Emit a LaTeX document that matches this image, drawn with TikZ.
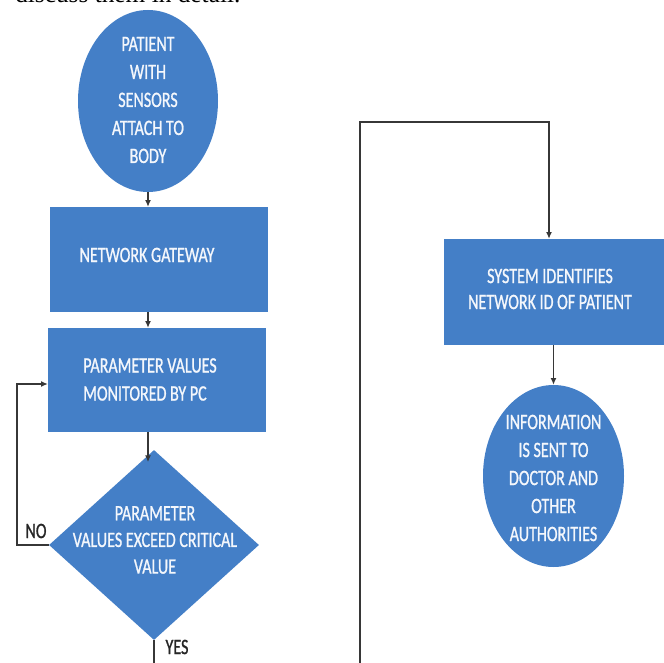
\documentclass[tikz,border=0pt]{standalone}
\usepackage{fontspec}
\setmainfont{Carlito}[FakeStretch=0.73, FakeBold=0.9]
\newfontfamily\serifdoc{Liberation Serif}
\usetikzlibrary{shapes.geometric,arrows.meta,calc}
\definecolor{boxblue}{RGB}{68,127,199}
\definecolor{linegray}{RGB}{55,55,55}
\tikzset{
  shapefill/.style={fill=boxblue, draw=none, inner sep=0pt},
  ellnode/.style={shapefill, ellipse, minimum width=105pt, minimum height=136.5pt},
  boxnode/.style={shapefill, rectangle},
  decnode/.style={shapefill, diamond, minimum width=157.5pt, minimum height=142.5pt},
  txt/.style={text=white!94!boxblue, font=\fontsize{16.5pt}{21pt}\selectfont, align=center, inner sep=0pt},
  lbl/.style={text=black!85, font=\fontsize{16.5pt}{21pt}\selectfont, inner sep=0pt},
  conn/.style={draw=linegray, line width=0.9pt},
  arr/.style={conn, -{Latex[length=5pt,width=4.5pt]}}
}
\begin{document}
\begin{tikzpicture}[x=0.75pt, y=-0.75pt]
\useasboundingbox (0,0) rectangle (664,663);
\clip (0,0) rectangle (664,663);
\fill[white] (0,0) rectangle (664,663);

% cut-off text line at the top
\node[anchor=base west, inner sep=0pt, font=\serifdoc\fontsize{19pt}{21pt}\selectfont] (topline) at (15,3) {discuss them in detail.};

% shapes
\node[ellnode] (p) at (148,101) {};
\node[txt] (pt) at (148,100) {PATIENT\\WITH\\SENSORS\\ATTACH TO\\BODY};

\node[boxnode, minimum width=163.5pt, minimum height=78.75pt] (r1) at (159,259.5) {};
\node[txt] (r1t) at (147,255) {NETWORK GATEWAY};

\node[boxnode, minimum width=163.5pt, minimum height=78pt] (r2) at (157,380) {};
\node[txt, align=left, anchor=west] (r2t) at (83,379.5) {PARAMETER VALUES\\MONITORED BY PC};

\node[decnode] (d) at (154,545) {};
\node[txt, font=\fontsize{16.5pt}{20pt}\selectfont] (dt) at (155,540) {PARAMETER\\VALUES EXCEED CRITICAL\\VALUE};

\node[boxnode, minimum width=165pt, minimum height=79.5pt] (r3) at (554,292) {};
\node[txt, font=\fontsize{16.5pt}{19.5pt}\selectfont] (r3t) at (550,289) {SYSTEM IDENTIFIES\\NETWORK ID OF PATIENT};

\node[ellnode, minimum width=105.75pt] (e2) at (553.5,476) {};
\node[txt] (e2t) at (553.5,478) {INFORMATION\\IS SENT TO\\DOCTOR AND\\OTHER\\AUTHORITIES};

% labels
\node[lbl] (no) at (36,531) {NO};
\node[lbl] (yes) at (177,647) {YES};

% coordinates for free ends / corners
\coordinate (dtip) at (148,462);
\coordinate (nocorner) at (17,545);
\coordinate (ybot) at (154,663);
\coordinate (rb) at (360,663);
\coordinate (rt) at (360,122);
\coordinate (rtr) at (549,122);

% connectors
\draw[arr] (p.south) -- (p.south |- r1.north);
\draw[arr] (p.south |- r1.south) -- (p.south |- r2.north);
\draw[arr] (p.south |- r2.south) -- (dtip);
\draw[arr] (d.west) -- (nocorner) |- ([yshift=-3pt]r2.west);
\draw[conn] (d.south) -- (ybot);
\draw[arr] (rb) -- (rt) -- (rtr) -- (rtr |- r3.north);
\draw[arr] (e2.north |- r3.south) -- (e2.north);
\end{tikzpicture}
\end{document}
